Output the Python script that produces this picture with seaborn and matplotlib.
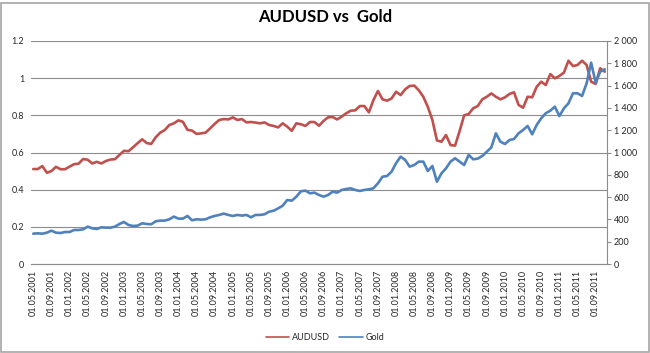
import numpy as np
import pandas as pd
import matplotlib
matplotlib.use("Agg")
import matplotlib.pyplot as plt
import seaborn as sns
from matplotlib.lines import Line2D
from matplotlib.patches import Rectangle

# monthly categories, 01.05.2001 .. 01.11.2011
months = pd.date_range("2001-05-01", "2011-11-01", freq="MS")

audusd = [
    0.511, 0.511, 0.527, 0.491, 0.500, 0.523, 0.510, 0.510,
    0.524, 0.537, 0.540, 0.565, 0.561, 0.541, 0.550, 0.541, 0.554, 0.562, 0.564, 0.587,
    0.609, 0.607, 0.628, 0.650, 0.671, 0.651, 0.646, 0.682, 0.707, 0.721, 0.748, 0.757,
    0.773, 0.765, 0.722, 0.718, 0.700, 0.703, 0.707, 0.730, 0.754, 0.775, 0.780, 0.778,
    0.789, 0.775, 0.780, 0.762, 0.764, 0.761, 0.757, 0.762, 0.748, 0.743, 0.735, 0.757,
    0.739, 0.717, 0.757, 0.752, 0.743, 0.764, 0.764, 0.744, 0.770, 0.789, 0.791, 0.778,
    0.793, 0.811, 0.825, 0.827, 0.850, 0.850, 0.816, 0.882, 0.931, 0.886, 0.879, 0.891,
    0.927, 0.909, 0.940, 0.958, 0.960, 0.935, 0.900, 0.845, 0.775, 0.665, 0.658, 0.694,
    0.640, 0.637, 0.715, 0.800, 0.807, 0.838, 0.850, 0.886, 0.900, 0.918, 0.900, 0.886,
    0.897, 0.915, 0.924, 0.856, 0.841, 0.900, 0.897, 0.954, 0.981, 0.963, 1.022, 0.999,
    1.012, 1.030, 1.094, 1.065, 1.071, 1.094, 1.071, 0.981, 0.969, 1.053, 1.035,
]

gold = [
    272, 275, 272, 281, 299, 281, 278, 287,
    287, 305, 305, 311, 335, 320, 314, 329, 326, 326, 335, 359,
    377, 350, 341, 344, 365, 359, 356, 383, 389, 389, 401, 425,
    407, 407, 431, 392, 401, 398, 401, 419, 431, 440, 452, 440,
    431, 440, 434, 440, 419, 440, 440, 446, 469, 478, 499, 523,
    574, 568, 604, 652, 658, 634, 640, 619, 604, 619, 649, 640,
    664, 673, 679, 664, 655, 664, 670, 679, 724, 783, 789, 828,
    905, 963, 933, 873, 888, 918, 918, 834, 879, 738, 813, 858,
    918, 948, 918, 888, 978, 939, 945, 969, 1007, 1046, 1172, 1097,
    1076, 1112, 1121, 1172, 1202, 1238, 1163, 1247, 1307, 1352, 1375, 1411,
    1327, 1396, 1441, 1531, 1531, 1507, 1620, 1806, 1626, 1725, 1746,
]

df = pd.DataFrame({"idx": np.arange(len(months)), "AUDUSD": audusd, "Gold": gold})

sns.set_style("white")
plt.rcParams["font.family"] = ["Lato", "DejaVu Sans"]

red = "#C0504D"
blue = "#4F81BD"
grid_col = "#8C8C8C"
txt_col = "#262626"

W, H = 650, 353
fig = plt.figure(figsize=(W / 100, H / 100), dpi=100)
ax = fig.add_axes([31 / W, 1 - 264 / H, (607 - 31) / W, (264 - 41) / H])

sns.lineplot(data=df, x="idx", y="AUDUSD", ax=ax, color=red, lw=1.9, legend=False)
ax2 = ax.twinx()
sns.lineplot(data=df, x="idx", y="Gold", ax=ax2, color=blue, lw=1.9, legend=False)

ax.set_xlim(-0.5, len(months) - 0.5)
ax.set_ylim(0, 1.2)
ax2.set_ylim(0, 2000)

ax.set_yticks(np.round(np.arange(0, 1.21, 0.2), 1))
ax.set_yticklabels(["%g" % v for v in np.round(np.arange(0, 1.21, 0.2), 1)])
ax2.set_yticks(range(0, 2001, 200))
ax2.set_yticklabels([f"{v:,}".replace(",", " ") for v in range(0, 2001, 200)])

ticks = list(range(0, len(months), 4))
ax.set_xticks(ticks)
ax.set_xticklabels([months[i].strftime("%d.%m.%Y") for i in ticks], rotation=90)

ax.set_xlabel("")
ax.set_ylabel("")
ax2.set_ylabel("")

ax.grid(axis="y", color=grid_col, lw=0.8)
ax.grid(axis="x", visible=False)
for s in ["left", "top", "right"]:
    ax.spines[s].set_visible(False)
ax.spines["bottom"].set_color(grid_col)
ax.spines["bottom"].set_linewidth(0.8)
for s in ["left", "top", "bottom"]:
    ax2.spines[s].set_visible(False)
ax2.spines["right"].set_color(grid_col)
ax2.spines["right"].set_linewidth(0.8)

ax.tick_params(axis="y", length=0, pad=5, labelsize=6.5, labelcolor=txt_col)
ax.tick_params(axis="x", length=0, pad=4, labelsize=6.5, labelcolor=txt_col)
ax2.tick_params(axis="y", direction="out", length=3, width=0.8, color=grid_col,
                pad=2, labelsize=6.5, labelcolor=txt_col)

fig.text(0.5, 1 - 17 / H, "AUDUSD vs  Gold", ha="center", va="center",
         fontsize=12, fontweight="bold", color="#000000")

handles = [Line2D([], [], color=red, lw=1.2), Line2D([], [], color=blue, lw=1.2)]
fig.legend(handles, ["AUDUSD", "Gold"], loc="center", bbox_to_anchor=(0.5, 1 - 338 / H),
           ncol=2, frameon=False, fontsize=6.5, handlelength=2.6, handletextpad=0.3,
           columnspacing=1.0, labelcolor=txt_col)

fig.patches.append(Rectangle((0.5 / W, 1.5 / H), 1 - 2 / W, 1 - 4 / H, transform=fig.transFigure,
                             fill=False, edgecolor="#A6A6A6", lw=1.2))

fig.savefig("out.png", dpi=100)
